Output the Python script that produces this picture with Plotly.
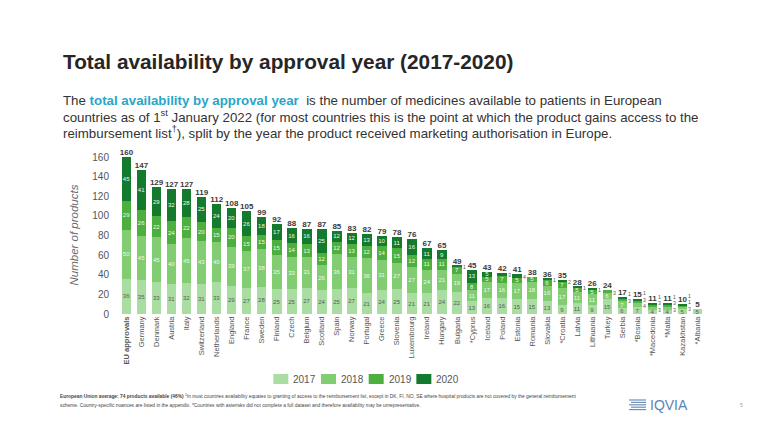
import plotly.graph_objects as go

countries = ["EU approvals", "Germany", "Denmark", "Austria", "Italy", "Switzerland", "Netherlands",
             "England", "France", "Sweden", "Finland", "Czech", "Belgium", "Scotland", "Spain", "Norway",
             "Portugal", "Greece", "Slovenia", "Luxembourg", "Ireland", "Hungary", "Bulgaria", "*Cyprus",
             "Iceland", "Poland", "Estonia", "Romania", "Slovakia", "*Croatia", "Latvia", "Lithuania",
             "Turkey", "Serbia", "*Bosnia", "*Macedonia", "*Malta", "Kazakhstan", "*Albania"]
y2017 = [36, 35, 33, 31, 32, 31, 33, 29, 27, 28, 25, 25, 27, 24, 25, 27, 21, 24, 25, 21, 21, 24, 22, 13,
         16, 16, 15, 15, 13, 9, 11, 9, 15, 6, 7, 4, 4, 5, 5]
y2018 = [50, 45, 45, 40, 45, 43, 40, 39, 37, 38, 35, 33, 31, 26, 36, 31, 36, 31, 27, 27, 24, 21, 19, 11,
         17, 16, 17, 18, 16, 17, 11, 11, 6, 7, 4, 3, 3, 3, 0]
y2019 = [29, 26, 22, 24, 22, 20, 15, 20, 15, 15, 15, 14, 13, 12, 12, 13, 12, 14, 15, 12, 11, 11, 7, 8,
         5, 7, 5, 5, 6, 7, 5, 5, 3, 3, 3, 3, 3, 1, 0]
y2020 = [45, 41, 29, 32, 28, 25, 24, 20, 26, 18, 17, 16, 16, 25, 12, 12, 13, 10, 11, 16, 11, 9, 1, 13,
         5, 3, 4, 0, 1, 2, 1, 1, 0, 1, 1, 1, 1, 1, 0]
years = ["2017", "2018", "2019", "2020"]
yticks = [0, 20, 40, 60, 80, 100, 120, 140, 160]

series = [y2017, y2018, y2019, y2020]
colors = ["#aadda2", "#82cc72", "#4caf3e", "#147a2d"]
seg_text_colors = ["#5a5a5a", "#eef8ea", "#eef8ea", "#eef8ea"]
inside_min = [4, 5, 5, 5]  # smaller values are written beside the bar
FONT = "Liberation Sans, Arial, sans-serif"

# the page body adds an 8px offset; the figure fills the rest of the window
OFF = 8
W, H = 776 - OFF, 445 - OFF
# plot box in window pixels
PL, PR, PT, PB = 118.5, 705, 157, 314
L, R, T, B = PL - OFF, W - (PR - OFF), PT - OFF, H - (PB - OFF)
PW, PH = PR - PL, PB - PT


def px(x):
    return (x - PL) / PW


def py(y):
    return (PB - y) / PH


fig = go.Figure()
for yr, vals, col, tc, mn in zip(years, series, colors, seg_text_colors, inside_min):
    fig.add_trace(go.Bar(
        x=countries, y=vals, name=yr,
        marker=dict(color=col, line=dict(width=0)),
        text=[str(v) if v >= mn else "" for v in vals],
        textposition="inside", insidetextanchor="middle", textangle=0,
        constraintext="none",
        textfont=dict(size=6, color=tc, family=FONT),
        showlegend=False, hoverinfo="skip",
    ))

totals = [sum(s[i] for s in series) for i in range(len(countries))]
fig.add_trace(go.Scatter(
    x=countries, y=totals, mode="text", text=[str(t) for t in totals],
    texttemplate="<b>%{text}</b>", textposition="top center",
    textfont=dict(size=8, color="#3a3a3a", family=FONT),
    cliponaxis=False, showlegend=False, hoverinfo="skip",
))

annotations = []
# small segment values written beside the bar, kept apart vertically
for i, c in enumerate(countries):
    base = 0
    last = -100
    for s, mn in zip(series, inside_min):
        v = s[i]
        if 1 <= v < mn:
            yv = max(base + v / 2, last + 6.5)
            annotations.append(dict(x=c, y=yv, xref="x", yref="y", text=str(v),
                                    showarrow=False, xshift=7, yshift=-1,
                                    font=dict(size=5.2, color="#555555", family=FONT)))
            last = yv
        base += v

# title and subtitle
annotations.append(dict(x=px(60), y=py(62), xref="paper", yref="paper", xanchor="left", yanchor="middle",
                        text="<b>Total availability by approval year (2017-2020)</b>", showarrow=False,
                        font=dict(size=20.8, color="#262626", family=FONT)))
sub_lines = [
    "The <b><span style='color:#2aa6c6'>total availability by approval year</span></b>  is the number of medicines available to patients in European",
    "countries as of 1<sup>st</sup> January 2022 (for most countries this is the point at which the product gains access to the",
    "reimbursement list<sup>†</sup>), split by the year the product received marketing authorisation in Europe.",
]
for k, line in enumerate(sub_lines):
    annotations.append(dict(x=px(60), y=py(100 + 16 * k), xref="paper", yref="paper", xanchor="left",
                            yanchor="middle", align="left", text=line, showarrow=False,
                            font=dict(size=13.3, color="#333333", family=FONT)))

# y axis title
annotations.append(dict(x=px(73), y=py(235), xref="paper", yref="paper", xanchor="center", yanchor="middle",
                        text="<i>Number of products</i>", textangle=-90, showarrow=False,
                        font=dict(size=11.5, color="#6a6a6a", family=FONT)))

# legend
shapes = []
leg_x0 = 273
for k, (yr, col) in enumerate(zip(years, colors)):
    x0 = leg_x0 + k * 47.7
    shapes.append(dict(type="rect", xref="paper", yref="paper", x0=px(x0), x1=px(x0 + 15),
                       y0=py(384), y1=py(374), fillcolor=col, line=dict(width=0)))
    annotations.append(dict(x=px(x0 + 18), y=py(379), xref="paper", yref="paper", xanchor="left",
                            yanchor="middle", text=yr, showarrow=False,
                            font=dict(size=10, color="#555555", family=FONT)))

# footer
annotations.append(dict(
    x=px(57), y=py(396), xref="paper", yref="paper", xanchor="left", yanchor="middle",
    text=("<b>European Union average: 74 products available (46%)</b> <sup>1</sup>In most countries availability equates to granting of access to the "
          "reimbursement list, except in DK, FI, NO, SE where hospital products are not covered by the general reimbursement"),
    showarrow=False, font=dict(size=4.85, color="#444444", family=FONT)))
annotations.append(dict(
    x=px(57), y=py(405), xref="paper", yref="paper", xanchor="left", yanchor="middle",
    text=("scheme. Country-specific nuances are listed in the appendix. *Countries with asterisks did not complete a full "
          "dataset and therefore availability may be unrepresentative."),
    showarrow=False, font=dict(size=4.85, color="#444444", family=FONT)))

# logo
for j in range(5):
    yy = 400 + j * 2.4
    shapes.append(dict(type="line", xref="paper", yref="paper", x0=px(629 + (j % 2) * 2), x1=px(646),
                       y0=py(yy), y1=py(yy), line=dict(color="#6f8fb8", width=1.2)))
annotations.append(dict(x=px(648), y=py(405), xref="paper", yref="paper", xanchor="left", yanchor="middle",
                        text="IQVIA", showarrow=False, font=dict(size=14, color="#5b84b4", family=FONT)))
annotations.append(dict(x=px(742), y=py(405), xref="paper", yref="paper", xanchor="center", yanchor="middle",
                        text="5", showarrow=False, font=dict(size=5, color="#999999", family=FONT)))

ticktext = ["<b>" + c + "</b>" if c == "EU approvals" else c for c in countries]

fig.update_layout(
    width=W, height=H, barmode="stack", bargap=0.37,
    margin=dict(l=L, r=R, t=T, b=B, pad=0, autoexpand=False),
    paper_bgcolor="white", plot_bgcolor="white",
    font=dict(family=FONT, color="#555555"),
    showlegend=False,
    xaxis=dict(tickmode="array", tickvals=countries, ticktext=ticktext, tickangle=-90,
               range=[-0.5, len(countries) - 0.5], automargin=False,
               tickfont=dict(size=7.5, color="#555555"), showgrid=False, showline=False,
               zeroline=False, ticks="", fixedrange=True),
    yaxis=dict(range=[0, 160], tickvals=yticks, tickfont=dict(size=10, color="#555555"),
               showgrid=False, showline=False, zeroline=False, ticks="", ticklabelstandoff=9,
               automargin=False, fixedrange=True),
    annotations=annotations, shapes=shapes,
)

fig.write_html("out.html")
